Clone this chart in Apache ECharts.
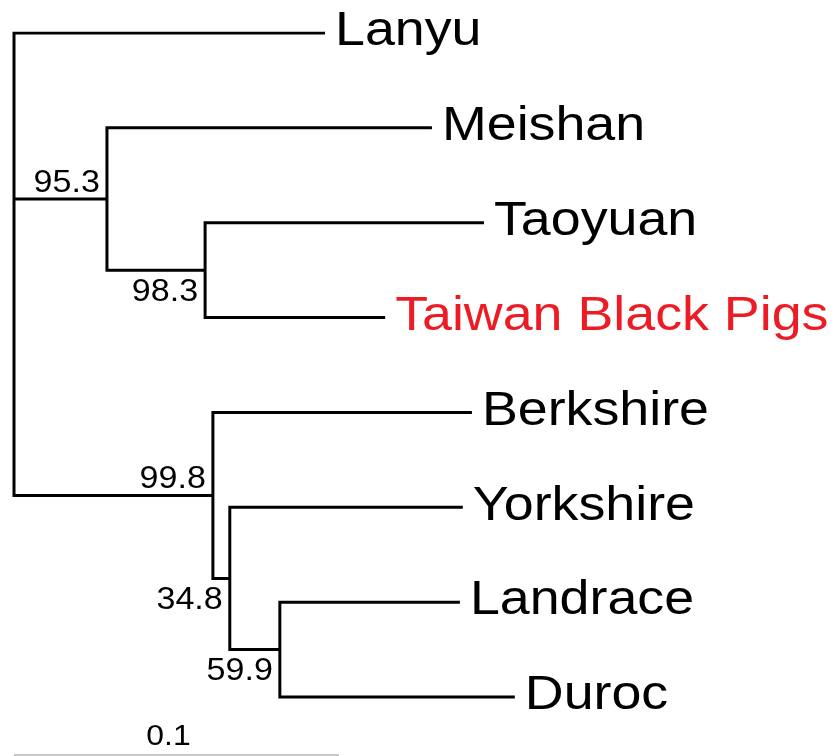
<!DOCTYPE html>
<html>
<head>
<meta charset="utf-8">
<script src="https://cdn.jsdelivr.net/npm/echarts@6/dist/echarts.min.js"></script>
<style>html,body{margin:0;padding:0;background:#fff;}#chart{width:840px;height:756px;}</style>
</head>
<body>
<div id="chart"></div>
<script>
// ---- Data ----
const leafNames = ['Lanyu', 'Meishan', 'Taoyuan', 'Taiwan Black Pigs', 'Berkshire', 'Yorkshire', 'Landrace', 'Duroc'];
const leafParent = ['root', 'A', 'B', 'B', 'C', 'D', 'E', 'E'];
const leafBranch = [0.0957, 0.1000, 0.0858, 0.0554, 0.0797, 0.0717, 0.0554, 0.0723];
const innerNodes = ['root', 'A', 'B', 'C', 'D', 'E'];
const innerParent = [null, 'root', 'A', 'root', 'C', 'D'];
const innerBranch = [0, 0.0286, 0.0302, 0.0612, 0.0052, 0.0154];
const bootstrap = [null, 95.3, 98.3, 99.8, 34.8, 59.9];
const bootstrapAbove = [false, true, false, true, false, false];
const highlightLeaf = 'Taiwan Black Pigs';
const scaleBarLength = 0.1;
const scaleBarLabel = '0.1';

// ---- Build tree geometry ----
const nodes = {};
innerNodes.forEach((id, i) => nodes[id] = { id, parent: innerParent[i], len: innerBranch[i], children: [], leaf: false, boot: bootstrap[i], above: bootstrapAbove[i] });
leafNames.forEach((n, i) => nodes[n] = { id: n, parent: leafParent[i], len: leafBranch[i], children: [], leaf: true, y: i });
Object.values(nodes).forEach(n => { if (n.parent) nodes[n.parent].children.push(n); });
function setX(n, px) { n.x = px + n.len; n.children.forEach(c => setX(c, n.x)); }
setX(nodes.root, 0);
function setY(n) {
  if (n.leaf) return n.y;
  n.children.forEach(setY);
  n.children.sort((a, b) => a.y - b.y);
  n.y = (n.children[0].y + n.children[n.children.length - 1].y) / 2;
  return n.y;
}
setY(nodes.root);

// one polyline per clade (first child -> vertical -> last child), plus middle children
const segs = [];
innerNodes.forEach(id => {
  const n = nodes[id], ch = n.children;
  const f = ch[0], l = ch[ch.length - 1];
  segs.push({ coords: [[f.x, f.y], [n.x, f.y], [n.x, l.y], [l.x, l.y]] });
  ch.slice(1, -1).forEach(c => segs.push({ coords: [[n.x, c.y], [c.x, c.y]] }));
});

const leafData = leafNames.map(name => [nodes[name].x, nodes[name].y]);
const bootNodes = innerNodes.filter(id => nodes[id].boot != null);
const bootData = bootNodes.map(id => [nodes[id].x, nodes[id].y]);

const nLeaves = leafNames.length;
const barY = nLeaves - 1 + 0.61;

const FONT = 'Liberation Sans, Arial, Helvetica, sans-serif';
function stretchedText(x, y, text, size, fill, align, sx) {
  return {
    type: 'text', x, y, scaleX: sx, originX: 0, originY: 0, silent: true,
    style: { x: 0, y: 0, text, fontSize: size, fontFamily: FONT, fill, align, verticalAlign: 'middle' }
  };
}

const chart = echarts.init(document.getElementById('chart'), null, { renderer: 'canvas' });
chart.setOption({
  animation: false,
  backgroundColor: '#fff',
  grid: { left: 14, top: 33, width: 812.5, height: 7.62 * 94.86 },
  xAxis: { type: 'value', min: 0, max: 0.25, show: false },
  yAxis: { type: 'value', min: 0, max: 7.62, inverse: true, show: false },
  series: [
    {
      type: 'lines', coordinateSystem: 'cartesian2d', polyline: true, silent: true,
      lineStyle: { color: '#000', width: 3, opacity: 1, cap: 'butt', join: 'miter' },
      data: segs
    },
    {
      type: 'custom', coordinateSystem: 'cartesian2d', silent: true, clip: false,
      data: leafData,
      renderItem: (params, api) => {
        const p = api.coord([api.value(0), api.value(1)]);
        const name = leafNames[params.dataIndex];
        return stretchedText(p[0] + 10, p[1] - 1, name, 48,
          name === highlightLeaf ? '#ED1C24' : '#000', 'left', 1.12);
      }
    },
    {
      type: 'custom', coordinateSystem: 'cartesian2d', silent: true, clip: false,
      data: bootData,
      renderItem: (params, api) => {
        const p = api.coord([api.value(0), api.value(1)]);
        const n = nodes[bootNodes[params.dataIndex]];
        return stretchedText(p[0] - 7, p[1] + (n.above ? -16 : 22), String(n.boot), 31, '#000', 'right', 1.1);
      }
    },
    {
      type: 'lines', coordinateSystem: 'cartesian2d', silent: true,
      lineStyle: { color: '#c8c8c8', width: 2, opacity: 1 },
      data: [{ coords: [[0, barY], [scaleBarLength, barY]] }]
    },
    {
      type: 'custom', coordinateSystem: 'cartesian2d', silent: true, clip: false,
      data: [[scaleBarLength / 2, barY]],
      renderItem: (params, api) => {
        const p = api.coord([api.value(0), api.value(1)]);
        return stretchedText(p[0] - 8, p[1] - 18, scaleBarLabel, 29, '#000', 'center', 1.1);
      }
    }
  ]
});
</script>
</body>
</html>
